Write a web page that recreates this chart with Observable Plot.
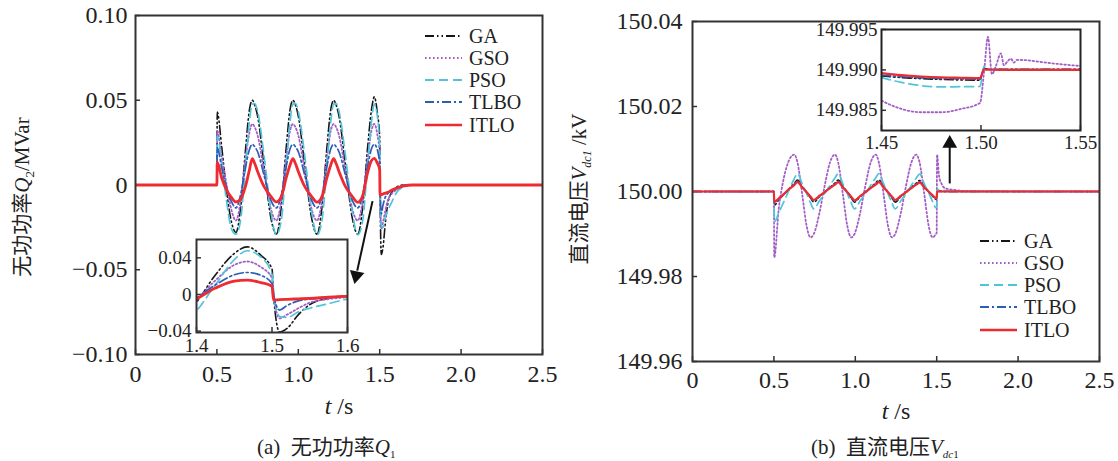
<!DOCTYPE html>
<html><head><meta charset="utf-8">
<script src="https://cdn.jsdelivr.net/npm/d3@7"></script>
<script src="https://cdn.jsdelivr.net/npm/@observablehq/plot@0.6"></script>
<style>
body{margin:0;background:#fff;}
#root{position:relative;width:1118px;height:461px;overflow:hidden;font-family:"Liberation Serif","Noto Sans CJK SC",serif;color:#222;}
#root svg{position:absolute;overflow:visible;}
.cap{position:absolute;font-size:21px;line-height:22px;white-space:nowrap;}
.cap i{font-style:italic;}
.cap sub{font-size:11px;line-height:0;vertical-align:-4px;}
</style></head><body><div id="root"></div>
<script>
// ---------- data ----------
const series = ["GA","GSO","PSO","TLBO","ITLO"];

// (a) reactive power Q (MVar)
const tQ = [0,0.5,0.502,0.53,0.56,0.59,0.617,0.645,0.675,0.7,0.717,
  0.733,0.75,0.79,0.83,0.865,0.895,0.925,0.95,0.967,
  0.983,1.0,1.04,1.08,1.115,1.145,1.175,1.2,1.217,
  1.233,1.25,1.29,1.33,1.365,1.395,1.425,1.45,1.467,
  1.485,1.5,1.502,1.51,1.52,1.535,1.55,1.575,1.6,1.65,1.7,2.5];
const qGA = [0,0,0.043,0.022,-0.004,-0.022,-0.028,-0.014,0.020,0.0445,0.050,
  0.047,0.0407,0.0113,-0.0186,-0.029,-0.0133,0.0213,0.0447,0.050,
  0.047,0.0407,0.0113,-0.0186,-0.029,-0.0133,0.0213,0.0447,0.050,
  0.047,0.0407,0.0113,-0.0186,-0.029,-0.0133,0.0213,0.0447,0.052,
  0.043,0.028,0.0,-0.041,-0.037,-0.022,-0.011,-0.004,-0.0015,0,0,0];
const qGSO = [0,0,0.032,0.016,0.000,-0.015,-0.021,-0.010,0.015,0.031,0.036,
  0.034,0.0293,0.0081,-0.0135,-0.021,-0.0097,0.0153,0.0322,0.036,
  0.034,0.0293,0.0081,-0.0135,-0.021,-0.0097,0.0153,0.0322,0.036,
  0.034,0.0293,0.0081,-0.0135,-0.021,-0.0097,0.0153,0.0322,0.036,
  0.030,0.018,0.0,-0.026,-0.022,-0.015,-0.009,-0.005,-0.003,0,0,0];
const qPSO = [0,0,0.029,0.012,-0.010,-0.026,-0.029,-0.021,0.010,0.038,0.0477,
  0.048,0.0435,0.017,-0.0146,-0.0294,-0.0212,0.0107,0.0379,0.0477,
  0.048,0.0435,0.017,-0.0146,-0.0294,-0.0212,0.0107,0.0379,0.0477,
  0.048,0.0435,0.017,-0.0146,-0.0294,-0.0212,0.0107,0.0379,0.0477,
  0.041,0.022,0.005,-0.024,-0.025,-0.019,-0.015,-0.010,-0.005,-0.001,0,0];
const qTLBO = [0,0,0.022,0.010,-0.002,-0.010,-0.0135,-0.006,0.010,0.021,0.024,
  0.0225,0.0196,0.0056,-0.0086,-0.0135,-0.006,0.0104,0.0215,0.024,
  0.0225,0.0196,0.0056,-0.0086,-0.0135,-0.006,0.0104,0.0215,0.024,
  0.0225,0.0196,0.0056,-0.0086,-0.0135,-0.006,0.0104,0.0215,0.024,
  0.021,0.012,0.0,-0.017,-0.012,-0.007,-0.005,-0.003,-0.002,0,0,0];
const qITLO = [0,0,0.0135,0.004,-0.003,-0.0075,-0.0100,-0.0085,-0.001,0.009,0.0155,
  0.0125,0.008,-0.001,-0.0065,-0.0100,-0.007,0.004,0.012,0.0155,
  0.0125,0.008,-0.001,-0.0065,-0.0101,-0.007,0.004,0.012,0.0155,
  0.0125,0.008,-0.001,-0.0065,-0.0102,-0.0065,0.007,0.0145,0.0157,
  0.013,0.009,-0.006,-0.0057,-0.0053,-0.0048,-0.0043,-0.003,-0.002,-0.0005,0,0];

// (b) DC voltage Vdc1 (kV)
const tV = [0,0.5,0.502,0.53,0.56,0.595,0.625,0.645,0.675,0.7,0.725,0.745,
  0.78,0.81,0.845,0.875,0.895,0.925,0.95,0.975,0.995,
  1.03,1.06,1.095,1.125,1.145,1.175,1.2,1.225,1.245,
  1.28,1.31,1.345,1.375,1.395,1.425,1.45,1.475,1.495,
  1.5,1.502,1.515,1.53,1.55,1.6,1.7,2.5];
const vGA = [150,150,149.9968,149.9980,149.9993,150.0007,150.0019,150.0027,150.0011,149.9999,149.9985,149.9975,
  149.9988,149.9998,150.0010,150.0020,150.0027,150.0011,149.9999,149.9985,149.9975,
  149.9988,149.9998,150.0010,150.0020,150.0027,150.0011,149.9999,149.9985,149.9975,
  149.9988,149.9998,150.0010,150.0020,150.0026,150.0011,150.0000,149.9989,149.9982,
  149.9982,150.0001,150.0001,150.0001,150.0000,150.0000,150.0000,150.0000];
const vGSO = [150,150,149.9845,149.9960,150.0030,150.0075,150.0087,150.0068,149.9990,149.9921,149.9892,149.9900,
  149.9950,150.0010,150.0069,150.0087,150.0068,149.9990,149.9921,149.9892,149.9900,
  149.9950,150.0010,150.0069,150.0087,150.0068,149.9990,149.9921,149.9892,149.9900,
  149.9950,150.0010,150.0069,150.0087,150.0068,149.9990,149.9921,149.9892,149.9900,
  149.9903,150.0087,150.0035,150.0018,150.0008,150.0004,150.0001,150.0000];
const vPSO = [150,150,149.9928,149.9950,149.9975,150.0005,150.0030,150.0042,150.0017,149.9996,149.9973,149.9959,
  149.9978,149.9994,150.0015,150.0032,150.0042,150.0017,149.9996,149.9973,149.9959,
  149.9978,149.9994,150.0015,150.0032,150.0042,150.0017,149.9996,149.9973,149.9959,
  149.9978,149.9994,150.0015,150.0032,150.0041,150.0017,149.9998,149.9976,149.9962,
  149.9962,150.0005,150.0004,150.0003,150.0002,150.0001,150.0000,150.0000];
const vTLBO = [150,150,149.9972,149.9982,149.9993,150.0006,150.0017,150.0024,150.0010,149.9999,149.9987,149.9978,
  149.9989,149.9998,150.0009,150.0018,150.0024,150.0010,149.9999,149.9987,149.9978,
  149.9989,149.9998,150.0009,150.0018,150.0024,150.0010,149.9999,149.9987,149.9978,
  149.9989,149.9998,150.0009,150.0018,150.0023,150.0010,150.0000,149.9990,149.9984,
  149.9984,150.0000,150.0000,150.0000,150.0000,150.0000,150.0000,150.0000];
const vITLO = [150,150,149.9975,149.9984,149.9994,150.0006,150.0015,150.0022,150.0009,149.9999,149.9988,149.9980,
  149.9990,149.9998,150.0008,150.0016,150.0022,150.0009,149.9999,149.9988,149.9979,
  149.9989,149.9998,150.0008,150.0016,150.0022,150.0009,149.9999,149.9988,149.9980,
  149.9990,149.9998,150.0008,150.0016,150.0021,150.0009,150.0000,149.9991,149.9985,
  149.9985,150.0000,150.0000,150.0000,150.0000,150.0000,150.0000,150.0000];

// (b) inset, 1.45–1.55 s
const tVi = [1.45,1.46,1.47,1.48,1.49,1.4995,1.5015,1.5035,1.5055,1.5075,1.51,1.5115,1.5135,1.515,1.5165,1.518,1.52,1.53,1.54,1.55];
const iGA   = [149.98926,149.98905,149.98892,149.98882,149.98876,149.98873,149.99015,149.99012,149.99010,149.99009,149.99008,149.99008,149.99008,149.99008,149.99008,149.99008,149.99008,149.99008,149.99008,149.99008];
const iGSO  = [149.98619,149.98517,149.98476,149.98476,149.98517,149.98591,149.98967,149.99409,149.98947,149.99049,149.99205,149.99058,149.99111,149.99139,149.99090,149.99123,149.99123,149.99098,149.99070,149.99049];
const iPSO  = [149.98905,149.98845,149.98805,149.98790,149.98792,149.98795,149.99045,149.99015,149.99008,149.99006,149.99005,149.99005,149.99005,149.99004,149.99004,149.99004,149.99004,149.99004,149.99004,149.99004];
const iTLBO = [149.98935,149.98915,149.98902,149.98893,149.98888,149.98885,149.99010,149.99006,149.99004,149.99003,149.99003,149.99003,149.99003,149.99003,149.99003,149.99003,149.99003,149.99003,149.99003,149.99003];
const iITLO = [149.98960,149.98935,149.98918,149.98907,149.98902,149.98898,149.99005,149.99003,149.99002,149.99002,149.99001,149.99001,149.99001,149.99001,149.99001,149.99000,149.99000,149.99000,149.99000,149.99000];

// ticks
const xTicksMain = [0,0.5,1.0,1.5,2.0,2.5];
const yTicksA = [-0.10,-0.05,0,0.05,0.10];
const yTicksB = [149.96,149.98,150.00,150.02,150.04];
const xTicksInsetA = [1.4,1.5,1.6];
const yTicksInsetA = [-0.04,0,0.04];
const xTicksInsetB = [1.45,1.50,1.55];
const yTicksInsetB = [149.985,149.990,149.995];

// annotation arrows (data coordinates)
const arrowA = [{x1:1.456,y1:-0.0095,x2:1.362,y2:-0.0505,tx:1.356,ty:-0.0535}];
const arrowB = [{x1:1.58,y1:150.0019,x2:1.58,y2:150.0108,tx:1.58,ty:150.0113}];

// ---------- styles ----------
const sty = {
  GA:{stroke:"#161616",dash:"9,3,1.5,3,1.5,3",w:1.6},
  GSO:{stroke:"#a35ec6",dash:"1.6,2.4",w:1.8},
  PSO:{stroke:"#52c4da",dash:"9,5",w:1.7},
  TLBO:{stroke:"#2c5db5",dash:"9,3,2,3",w:1.7},
  ITLO:{stroke:"#ee2b30",dash:null,w:2.8}
};
const FONT = '"Liberation Serif","Noto Sans CJK SC",serif';
const minus = s => s.replace("-", "\u2212");
const fmtMainX = d => d===0 ? "0" : d.toFixed(1);
const fmtA = d => d===0 ? "0" : minus(d.toFixed(2));

function lineMarks(t, vals, wITLO) {
  return series.map(s => Plot.line(t.map((x,i)=>({x, y: vals[s][i]})), {
    x:"x", y:"y", stroke: sty[s].stroke,
    strokeWidth: s==="ITLO" ? wITLO : sty[s].w,
    strokeDasharray: sty[s].dash || undefined,
    curve:"monotone-x", clip:true
  }));
}

function axes(o) {
  return [
    Plot.axisX({ticks:o.xt, tickFormat:o.xf, tickSize:-5, tickPadding:o.px, label:null, fontSize:o.fs, stroke:"#333", strokeWidth:1.5}),
    Plot.axisY({ticks:o.yt, tickFormat:o.yf, tickSize:-5, tickPadding:o.py, label:null, fontSize:o.fs, stroke:"#333", strokeWidth:1.5})
  ];
}

function arrowMarks(a, rot) {
  return [
    Plot.link(a, {x1:"x1",y1:"y1",x2:"x2",y2:"y2",stroke:"#111",strokeWidth:2}),
    Plot.dot(a, {x:"tx",y:"ty",symbol:"triangle",r:5.5,fill:"#111",stroke:"none",rotate:rot})
  ];
}

const root = document.getElementById("root");
function place(el, left, top) { el.style.left = left+"px"; el.style.top = top+"px"; root.appendChild(el); return el; }

// ---------- panel (a) ----------
const qVals = {GA:qGA, GSO:qGSO, PSO:qPSO, TLBO:qTLBO, ITLO:qITLO};
const plotA = Plot.plot({
  width:560, height:400, marginLeft:135, marginRight:18, marginTop:15, marginBottom:46,
  style:{fontFamily:FONT, fontSize:"24px", color:"#222", background:"transparent"},
  x:{domain:[0,2.5]},
  y:{domain:[-0.1,0.1]},
  marks:[
    ...axes({xt:xTicksMain, xf:fmtMainX, yt:yTicksA, yf:fmtA, fs:24, px:15, py:13}),
    ...lineMarks(tQ, qVals, 2.8),
    ...arrowMarks(arrowA, 192),
    Plot.frame({stroke:"#333", strokeWidth:2})
  ]
});
place(plotA, 0, 0);

const insetA = Plot.plot({
  width:210, height:130, marginLeft:46, marginRight:13, marginTop:9, marginBottom:28,
  style:{fontFamily:FONT, fontSize:"19px", color:"#222", background:"transparent"},
  x:{domain:[1.4,1.6]},
  y:{domain:[-0.0415,0.06]},
  marks:[
    Plot.frame({fill:"white", stroke:null}),
    ...axes({xt:xTicksInsetA, xf:d=>d.toFixed(1), yt:yTicksInsetA, yf:fmtA, fs:19, px:11, py:10}),
    ...lineMarks(tQ, qVals, 2.8),
    Plot.frame({stroke:"#333", strokeWidth:2})
  ]
});
place(insetA, 150, 230);

// ---------- panel (b) ----------
const vVals = {GA:vGA, GSO:vGSO, PSO:vPSO, TLBO:vTLBO, ITLO:vITLO};
const plotB = Plot.plot({
  width:558, height:400, marginLeft:132, marginRight:19, marginTop:21, marginBottom:39,
  style:{fontFamily:FONT, fontSize:"24px", color:"#222", background:"transparent"},
  x:{domain:[0,2.5]},
  y:{domain:[149.96,150.04]},
  marks:[
    ...axes({xt:xTicksMain, xf:fmtMainX, yt:yTicksB, yf:d=>d.toFixed(2), fs:24, px:14, py:15}),
    ...lineMarks(tV, vVals, 2.2),
    ...arrowMarks(arrowB, 0),
    Plot.frame({stroke:"#333", strokeWidth:2})
  ]
});
place(plotB, 560, 0);

const viVals = {GA:iGA, GSO:iGSO, PSO:iPSO, TLBO:iTLBO, ITLO:iITLO};
const insetB = Plot.plot({
  width:300, height:140, marginLeft:81, marginRight:20, marginTop:14, marginBottom:25,
  style:{fontFamily:FONT, fontSize:"19px", color:"#222", background:"transparent"},
  x:{domain:[1.45,1.55]},
  y:{domain:[149.9825,149.995]},
  marks:[
    Plot.frame({fill:"white", stroke:null}),
    ...axes({xt:xTicksInsetB, xf:d=>d.toFixed(2), yt:yTicksInsetB, yf:d=>d.toFixed(3), fs:19, px:10, py:9}),
    ...lineMarks(tVi, viVals, 2.2),
    Plot.frame({stroke:"#222", strokeWidth:2})
  ]
});
place(insetB, 800, 15);

// ---------- legends ----------
function legend(rows, left, top) {
  const svg = d3.create("svg").attr("width", 140).attr("height", 130);
  series.forEach((s,i) => {
    svg.append("line").attr("x1", 0).attr("x2", 37).attr("y1", rows[i]).attr("y2", rows[i])
      .attr("stroke", sty[s].stroke).attr("stroke-width", s==="ITLO"?2.6:1.8)
      .attr("stroke-dasharray", sty[s].dash);
    svg.append("text").attr("x", 44).attr("y", rows[i]).attr("dy","0.35em")
      .attr("font-family", FONT).attr("font-size", 20).attr("fill","#222").text(s);
  });
  const n = svg.node(); place(n, left, top); return n;
}
legend([8,30,52,74,97], 425, 28);
legend([8,30,52,74,97], 980, 233);

// ---------- axis titles ----------
function ytitle(svgNode, x, y, parts) {
  const t = d3.select(svgNode).append("text")
    .attr("transform", `translate(${x},${y}) rotate(-90)`)
    .attr("text-anchor","middle").attr("dy","0.35em")
    .attr("font-family", FONT).attr("font-size", 21).attr("fill","#222");
  parts(t);
}
ytitle(plotA, 22, 197, t => {
  t.append("tspan").text("无功功率");
  t.append("tspan").attr("font-style","italic").text("Q");
  t.append("tspan").attr("font-size",13).attr("dy",5).text("2");
  t.append("tspan").attr("dy",-5).text("/MVar");
});
ytitle(plotB, 19, 189, t => {
  t.append("tspan").text("直流电压");
  t.append("tspan").attr("font-style","italic").text("V");
  t.append("tspan").attr("font-size",12).attr("font-style","italic").attr("dy",5).text("dc1");
  t.append("tspan").attr("dy",-5).text(" /kV");
});
function xtitle(svgNode, x, y) {
  const t = d3.select(svgNode).append("text").attr("x", x).attr("y", y)
    .attr("text-anchor","middle").attr("dy","0.35em")
    .attr("font-family", FONT).attr("font-size", 24).attr("fill","#222");
  t.append("tspan").attr("font-style","italic").text("t");
  t.append("tspan").text(" /s");
}
xtitle(plotA, 339, 406);
xtitle(plotB, 336, 411);

// ---------- captions ----------
const capA = document.createElement("div"); capA.className = "cap";
capA.innerHTML = "(a)&nbsp;&nbsp;无功功率<i>Q</i><sub>1</sub>";
place(capA, 257, 436);
const capB = document.createElement("div"); capB.className = "cap";
capB.innerHTML = "(b)&nbsp;&nbsp;直流电压<i>V</i><sub><i>dc</i>1</sub>";
place(capB, 811, 436);
</script></body></html>
